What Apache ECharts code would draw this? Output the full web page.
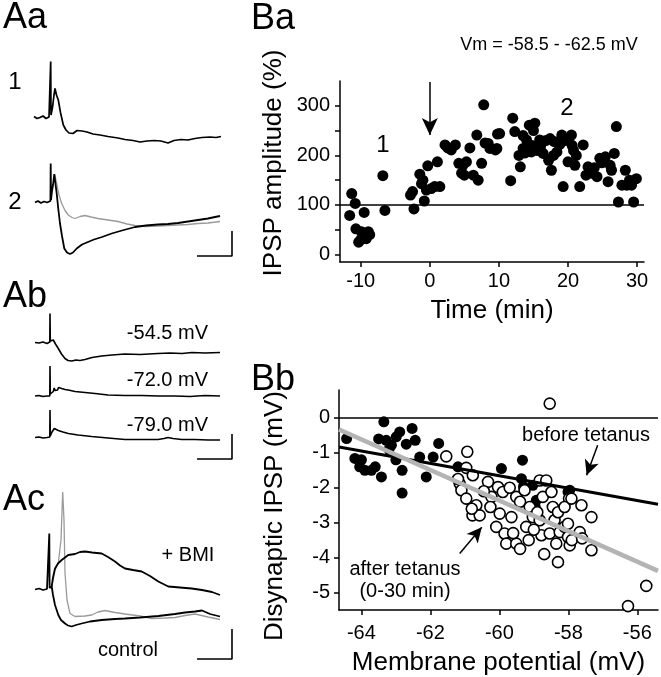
<!DOCTYPE html>
<html><head><meta charset="utf-8">
<script src="https://cdn.jsdelivr.net/npm/echarts@6/dist/echarts.min.js"></script>
<style>html,body{margin:0;padding:0;background:#fff}#c{width:661px;height:677px}</style>
</head><body><div id="c"></div>
<script>
// ---------- Panel Ba : IPSP amplitude (%) vs time (min) ----------
const baTicksX = [-10, 0, 10, 20, 30];
const baTicksY = [0, 50, 100, 150, 200, 250, 300];
const baLabelsY = [0, 100, 200, 300];
const baPoints = [
  [-11.3,123],[-10.8,103],[-11.6,79],[-9.5,85],[-10.7,52],[-9.9,46],[-8.9,46],[-10.3,25],[-9.2,32],[-8.7,40],[-10.0,30],[-9.6,38],[-6.8,159],[-6.5,89],
  [-2.3,92],[-2.8,120],[-2.5,127],[-1.45,162],[-1.2,143],[-0.8,108],[-0.5,130],[-0.3,179],[0.7,137],[1.45,137],[1.1,187],[-1.0,150],[0.2,133],
  [2.2,221],[3.1,211],[3.7,221],[4.8,180],[4.6,164],[5.8,215],[5.3,187],[6.3,160],[7.0,150],[6.8,241],[7.5,184],[7.8,302],[8.45,224],[8.7,214],[4.2,184],[5.0,160],[9.7,214],[9.5,211],[8.0,225],[2.6,215],
  [10.1,244],[9.8,243],[12.0,275],[12.3,248],[11.7,149],[13.1,177],[12.9,200],[13.5,214],[14.0,231],[14.4,261],[15.2,265],[14.7,207],[15.9,231],[16.4,204],[17.4,234],[17.6,170],[17.2,190],[18.4,207],[19.1,241],[19.3,137],[13.5,240],[14.8,220],[15.5,210],[16.2,225],[16.8,230],[18.0,228],[18.8,222],[13.8,205],[15.0,250],[17.9,200],[16.0,215],[19.6,230],
  [20.0,187],[20.5,241],[20.6,220],[21.2,200],[21.7,137],[22.2,221],[22.9,177],[23.4,164],[24.2,157],[24.6,194],[25.4,197],[25.8,147],[26.1,180],[26.7,204],[27.0,258],[27.3,106],[27.8,140],[28.3,170],[28.5,140],[29.5,106],[29.9,153],[29.2,140],[20.1,230],[21.0,180],[23.8,175],[24.9,185],[26.3,170],[22.6,160],[28.9,150],[20.8,210]
];
const baBaseline = 100;
const baArrow = [[0,348],[0,241]];

// ---------- Panel Bb : disynaptic IPSP (mV) vs membrane potential (mV) ----------
const bbTicksX = [-64, -62, -60, -58, -56];
const bbTicksY = [0, -1, -2, -3, -4, -5];
const bbBefore = [
  [-64.43,-0.59],[-64.19,-1.16],[-64.05,-1.40],[-63.9,-1.5],[-63.71,-1.5],[-63.42,-1.69],[-63.35,-0.11],[-63.28,-0.64],[-63.13,-0.78],[-62.99,-0.54],[-62.89,-0.40],[-62.82,-1.5],[-62.82,-2.15],[-62.53,-0.30],[-62.44,-0.64],[-62.31,-1.12],[-62.12,-1.69],[-61.92,-1.12],[-61.76,-0.73],[-61.2,-1.40],[-59.94,-1.45],[-59.33,-1.21],[-59.36,-1.74],[-58.93,-2.36],[-58.01,-2.12],[-59.3,-1.97],[-59.03,-1.93],[-63.0,-1.2],[-63.6,-1.4],[-64.0,-1.2],[-63.2,-0.9],[-62.7,-0.75],[-63.5,-0.6],[-58.96,-2.55],[-57.96,-2.07]
];
const bbAfter = [
  [-58.54,0.41],[-56.27,-5.39],[-55.74,-4.81],[-61.54,-1.10],[-60.93,-0.97],[-60.96,-1.43],[-60.77,-1.64],[-61.15,-1.88],[-61.1,-2.07],[-60.96,-2.31],[-60.67,-2.50],[-60.78,-2.79],[-60.57,-2.79],[-60.33,-1.83],[-60.23,-2.26],[-60.26,-2.55],[-60.04,-1.98],[-59.9,-2.12],[-60.09,-3.12],[-59.85,-3.31],[-59.8,-3.60],[-59.99,-2.74],[-59.65,-2.84],[-59.51,-3.60],[-59.51,-2.26],[-59.4,-2.4],[-59.22,-3.12],[-59.27,-2.07],[-59.12,-2.55],[-59.03,-2.84],[-58.83,-2.93],[-58.78,-3.36],[-58.83,-1.79],[-58.64,-1.79],[-58.74,-2.26],[-58.49,-2.12],[-58.45,-2.55],[-58.54,-3.31],[-58.4,-2.93],[-58.35,-3.60],[-58.3,-4.13],[-58.25,-3.27],[-58.11,-3.12],[-58.01,-3.03],[-58.01,-3.41],[-57.98,-2.31],[-57.96,-3.65],[-57.9,-3.5],[-57.67,-3.27],[-57.62,-2.50],[-57.6,-3.45],[-57.33,-2.84],[-57.33,-3.79],[-61.2,-1.75],[-60.8,-2.6],[-60.45,-2.1],[-59.6,-3.3],[-59.15,-3.5],[-58.9,-2.7],[-58.3,-2.7],[-58.7,-3.9],[-59.4,-3.75],[-58.11,-2.55],[-57.91,-2.31],[-59.7,-2.0],[-59.0,-3.2]
];
const bbFitBefore = [[-64.65,-0.83],[-55.4,-2.47]];
const bbFitAfter = [[-64.65,-0.33],[-55.4,-4.38]];
const bbArrowBefore = [[-57.15,-0.78],[-57.47,-1.64]];
const bbArrowAfter = [[-61.15,-3.88],[-60.51,-3.13]];

// ---------- Panels A : traces (time ms, voltage mV relative to panel floor) ----------
const traceAa1 = [[4,28.7],[7,28.3],[10,28.5],[13,28.8],[16,28.3],[19,28.6],[20.4,28.6],[20.7,39.7],[21,29],[22.5,30.5],[24,33],[25,34.3],[26.5,33],[28.3,32],[30.5,29.5],[33.3,27],[36,26],[39,25.4],[43,25.3],[47,25.9],[52,25.8],[57,25.6],[63,25.2],[70,25],[78,24.7],[88,24.4],[95,24.1],[103,23.9],[110,23.6],[117,23.8],[124,23.9],[131,23.8],[138,23.4],[144,23.9],[151,24.1],[158,24],[165,24.3],[172,24.5],[180,24.6],[186,24.5],[191,24.7]];
const traceAa2 = [[5,11.5],[8,11.8],[11,11.4],[14,11.7],[17,11.5],[20.4,11.8],[20.7,19.3],[21,12],[22,13.8],[23,15],[24.3,17.2],[25.3,15.5],[26.7,13.3],[28.3,10.2],[30,7.3],[32,4.8],[34.3,2.3],[37,1.5],[40,1.2],[43,1.5],[46.7,2.3],[52,3.1],[58,3.6],[64,4.1],[72,4.6],[81.7,5.3],[92,5.9],[105,6.6],[116,6.9],[128,7.1],[138,7.2],[148,7.4],[158,7.7],[168,8],[178,8.3],[185,8.6],[190,8.8]];
const traceAa2Gray = [[24.3,17.2],[25.5,16.4],[26.7,15.3],[29,13],[31.7,11.3],[35,9.9],[38.3,9],[42,8.5],[45,8.3],[50,8.7],[55,8.9],[61,8.6],[68,8.3],[78,8],[88,7.7],[97,7.2],[105,6.9],[116,6.7],[128,6.8],[138,6.9],[148,7],[158,7.1],[168,7.3],[178,7.4],[190,7.7]];
const traceAb1 = [[5,24.5],[9,24.4],[13,24.6],[17,24.3],[19.8,24.6],[20,30.3],[20.3,24.8],[22,25.2],[23.3,25],[25.5,24.2],[28.3,23.3],[31.5,22.2],[35,21.3],[38,20.9],[41.7,20.8],[46,21],[50,20.9],[55,21.1],[62,21.5],[71.7,21.8],[82,22],[95,22.2],[110,22.1],[128,22.3],[140,22.4],[152,22.3],[162,22.5],[175,22.4],[190,22.5]];
const traceAb2 = [[5,13.8],[9,13.9],[13,13.7],[17,13.8],[19.8,13.8],[20,19.8],[20.3,14.2],[22,14.5],[23.3,14.7],[24.2,15.4],[25,14.9],[26.7,15.3],[27.6,15],[28.5,15.5],[30,15.1],[31.7,15.3],[35,15.1],[38.3,15],[45,14.7],[55,14.5],[65,14.3],[78,14],[95,13.9],[111.7,13.9],[128,13.8],[145,13.8],[160,13.7],[175,13.9],[190,13.8]];
const traceAb3 = [[5,5.5],[9,5.6],[13,5.4],[17,5.5],[19.8,5.6],[20,11],[20.3,5.8],[22,6.6],[24.3,7.3],[26,7],[28.3,6.9],[33,6.6],[38.3,6.3],[48,6],[61.7,5.7],[78,5.4],[95,5.1],[112,5.1],[128,5.1],[134,5.3],[138,5.5],[143,5.3],[151.7,5.1],[165,5.1],[178,5],[190,5]];
const traceAcBMI = [[5,16.1],[9,16.3],[13,16],[17,16.2],[19,16.2],[19.3,27.3],[19.6,16.4],[21.7,16.7],[23,18.5],[25,20.3],[28,21.3],[31.7,22],[35,22.5],[38.3,23],[45,23.2],[50,23.6],[55,23.7],[62,23.5],[71.7,23.3],[78,22.6],[85,21.7],[90,20.9],[95,20.3],[103,20],[111.7,19.7],[120,18.8],[128.3,17.7],[138.3,16.7],[150,16.5],[161.7,16.3],[172,16],[182,15.6],[190,15]];
const traceAcControl = [[21.7,16.7],[23,15],[25,13],[28.3,11],[31,10],[35,9.3],[38,8.9],[41.7,8.7],[46,9],[51.7,9.3],[60,9.7],[71.7,10],[85,10.2],[95,10.3],[110,10.5],[128.3,10.8],[145,11.2],[155,11.5],[165,11.7],[172,11.9],[180,11.2],[190,10.7]];
const traceAcGray = [[21.7,16.7],[25,20],[28.3,21.4],[31,26],[32.7,35.6],[34,30],[35,19.4],[37,14],[40,11.3],[45,10.7],[55,10.8],[61.7,11],[68,11.6],[75,11.9],[85,11.5],[95,11.2],[110,10.8],[121.7,10.3],[135,10.4],[145,10.5],[155,10.9],[165,11.2],[178,10.6],[190,10.1]];
const scaleBarStart = [167, 167, 167];
const scaleBarMs = 35;
const scaleBarMv = [5, 5, 6];
const scaleBarFloor = [0.8, 1.2, 2.2];

// ---------- build ----------
const FONT = 'Liberation Sans, Arial, Helvetica, sans-serif';
const chart = echarts.init(document.getElementById('c'), null, {renderer: 'canvas'});
const black = '#000';
const axisCommon = {
  axisLine: {show: true, onZero: false, lineStyle: {color: black, width: 1.5}},
  splitLine: {show: false},
  nameTextStyle: {color: black, fontFamily: FONT, fontSize: 26},
};
function hiddenAxis(gi, max) {
  return {gridIndex: gi, type: 'value', min: 0, max: max, show: false, splitLine: {show: false}};
}
function bar(i) {
  const x0 = scaleBarStart[i], y0 = scaleBarFloor[i];
  return [[x0, y0], [x0 + scaleBarMs, y0], [x0 + scaleBarMs, y0 + scaleBarMv[i]]];
}
function trace(gi, data, color, w) {
  return {type: 'line', xAxisIndex: gi, yAxisIndex: gi, data: data, showSymbol: false, symbol: 'none',
    silent: true, animation: false, lineStyle: {color: color, width: w}};
}
function txt(text, x, y, size, align, rot) {
  return {type: 'text', x: x, y: y, rotation: rot || 0, silent: true,
    style: {text: text, font: size + 'px ' + FONT, fill: black, align: align || 'center', verticalAlign: 'middle'}};
}

const option = {
  backgroundColor: '#fff',
  animation: false,
  grid: [
    {left: 340, top: 81, width: 304, height: 181, outerBoundsMode: 'none', containLabel: false},
    {left: 339, top: 390, width: 319, height: 220, outerBoundsMode: 'none', containLabel: false},
    {left: 30, top: 55, width: 203, height: 205, outerBoundsMode: 'none'},
    {left: 30, top: 300, width: 203, height: 165, outerBoundsMode: 'none'},
    {left: 30, top: 480, width: 203, height: 190, outerBoundsMode: 'none'}
  ],
  xAxis: [
    Object.assign({}, axisCommon, {gridIndex: 0, type: 'value', min: -13, max: 31,
      name: 'Time (min)', nameLocation: 'middle', nameGap: 36,
      axisTick: {show: true, length: 5, lineStyle: {color: black, width: 1.5}, customValues: baTicksX},
      axisLabel: {color: black, fontFamily: FONT, fontSize: 20, margin: 9, customValues: baTicksX}}),
    Object.assign({}, axisCommon, {gridIndex: 1, type: 'value', min: -64.65, max: -55.4,
      name: 'Membrane potential (mV)', nameLocation: 'middle', nameGap: 40,
      axisTick: {show: true, length: 5, lineStyle: {color: black, width: 1.5}, customValues: bbTicksX},
      axisLabel: {color: black, fontFamily: FONT, fontSize: 20, margin: 13, customValues: bbTicksX}}),
    hiddenAxis(2, 203), hiddenAxis(3, 203), hiddenAxis(4, 203)
  ],
  yAxis: [
    Object.assign({}, axisCommon, {gridIndex: 0, type: 'value', min: -15, max: 350,
      axisTick: {show: true, length: 5, lineStyle: {color: black, width: 1.5}, customValues: baTicksY},
      axisLabel: {color: black, fontFamily: FONT, fontSize: 20, margin: 10, customValues: baLabelsY}}),
    Object.assign({}, axisCommon, {gridIndex: 1, type: 'value', min: -5.5, max: 0.8,
      axisTick: {show: true, length: 5, lineStyle: {color: black, width: 1.5}, customValues: bbTicksY},
      axisLabel: {color: black, fontFamily: FONT, fontSize: 20, margin: 9, customValues: bbTicksY}}),
    hiddenAxis(2, 41), hiddenAxis(3, 33), hiddenAxis(4, 38)
  ],
  series: [
    // Ba
    {type: 'scatter', xAxisIndex: 0, yAxisIndex: 0, data: baPoints, symbol: 'circle', symbolSize: 11,
      itemStyle: {color: black, opacity: 1}, silent: true,
      markLine: {silent: true, symbol: 'none', label: {show: false}, lineStyle: {color: black, width: 1.5, type: 'solid'},
        data: [{yAxis: baBaseline}]}},
    {type: 'line', xAxisIndex: 0, yAxisIndex: 0, data: [], silent: true,
      markLine: {silent: true, symbol: ['none', 'arrow'], symbolSize: [12, 17], label: {show: false},
        lineStyle: {color: black, width: 1.5, type: 'solid'},
        data: [[{coord: baArrow[0]}, {coord: baArrow[1]}]]}},
    // Bb
    {type: 'scatter', xAxisIndex: 1, yAxisIndex: 1, data: bbBefore, symbol: 'circle', symbolSize: 11,
      itemStyle: {color: black, opacity: 1}, silent: true,
      markLine: {silent: true, symbol: 'none', label: {show: false}, lineStyle: {color: black, width: 1.5, type: 'solid'},
        data: [{yAxis: 0}]}},
    {type: 'line', xAxisIndex: 1, yAxisIndex: 1, data: bbFitBefore, showSymbol: false, symbol: 'none', silent: true,
      lineStyle: {color: black, width: 3}},
    {type: 'line', xAxisIndex: 1, yAxisIndex: 1, data: bbFitAfter, showSymbol: false, symbol: 'none', silent: true,
      lineStyle: {color: '#b4b4b4', width: 4.5}},
    {type: 'scatter', xAxisIndex: 1, yAxisIndex: 1, data: bbAfter, symbol: 'circle', symbolSize: 11,
      itemStyle: {color: '#fff', borderColor: black, borderWidth: 1.6, opacity: 1}, silent: true},
    {type: 'line', xAxisIndex: 1, yAxisIndex: 1, data: [], silent: true,
      markLine: {silent: true, symbol: ['none', 'arrow'], symbolSize: [11, 15], label: {show: false},
        lineStyle: {color: black, width: 1.5, type: 'solid'},
        data: [[{coord: bbArrowBefore[0]}, {coord: bbArrowBefore[1]}], [{coord: bbArrowAfter[0]}, {coord: bbArrowAfter[1]}]]}},
    // Aa
    trace(2, traceAa1, black, 1.7),
    trace(2, traceAa2Gray, '#9a9a9a', 1.3),
    trace(2, traceAa2, black, 1.8),
    trace(2, bar(0), black, 1.6),
    // Ab
    trace(3, traceAb1, black, 1.6),
    trace(3, traceAb2, black, 1.6),
    trace(3, traceAb3, black, 1.6),
    trace(3, bar(1), black, 1.6),
    // Ac
    trace(4, traceAcGray, '#9a9a9a', 1.3),
    trace(4, traceAcControl, black, 1.8),
    trace(4, traceAcBMI, black, 1.8),
    trace(4, bar(2), black, 1.6)
  ],
  graphic: [
    txt('Aa', 3, 18, 36, 'left'),
    txt('1', 15, 82, 24),
    txt('2', 15, 202, 24),
    txt('Ab', 3, 297, 36, 'left'),
    txt('-54.5 mV', 208, 333, 20, 'right'),
    txt('-72.0 mV', 208, 380, 20, 'right'),
    txt('-79.0 mV', 208, 425, 20, 'right'),
    txt('Ac', 3, 500, 36, 'left'),
    txt('+ BMI', 188, 555, 20),
    txt('control', 128, 650, 20),
    txt('Ba', 251, 19, 36, 'left'),
    txt('Vm = -58.5 - -62.5 mV', 549, 45, 18),
    txt('IPSP amplitude (%)', 274, 163, 26, 'center', Math.PI / 2),
    txt('1', 383, 145, 24),
    txt('2', 567, 108, 24),
    txt('Bb', 251, 380, 36, 'left'),
    txt('Disynaptic IPSP (mV)', 275, 516, 26, 'center', Math.PI / 2),
    txt('before tetanus', 586, 435, 20),
    txt('after tetanus', 405, 569, 20),
    txt('(0-30 min)', 405, 591, 20)
  ]
};
chart.setOption(option);
</script></body></html>
